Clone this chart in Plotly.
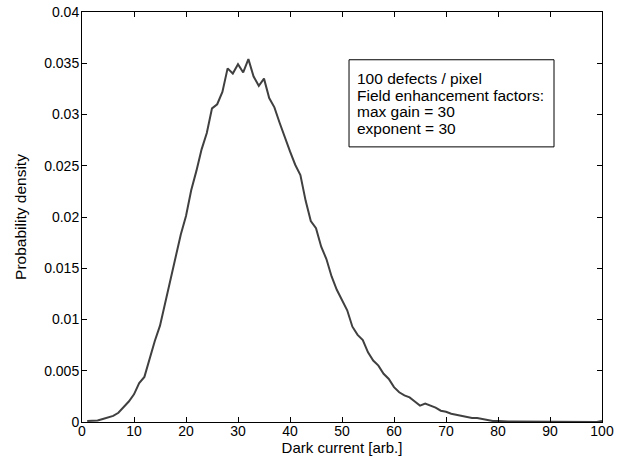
import plotly.graph_objects as go

dark_current = list(range(1, 101))
prob_density = [
    0.0001, 0.0001, 0.00015, 0.0003, 0.00045, 0.0006, 0.0009, 0.0014, 0.0020, 0.0027,
    0.0038, 0.0044, 0.0062, 0.0079, 0.0094, 0.0116, 0.0137, 0.0158, 0.0183, 0.0201,
    0.0226, 0.0245, 0.0266, 0.0282, 0.0306, 0.0310, 0.0322, 0.0345, 0.0340, 0.0349,
    0.0341, 0.0354, 0.0337, 0.0328, 0.0335, 0.0316, 0.0307, 0.0292, 0.0277, 0.0264,
    0.0251, 0.0241, 0.0216, 0.0196, 0.0189, 0.0171, 0.0159, 0.0142, 0.0129, 0.0119,
    0.0109, 0.0093, 0.0085, 0.0080, 0.0068, 0.0060, 0.0055, 0.0047, 0.0042, 0.0034,
    0.0029, 0.0026, 0.0024, 0.0020, 0.0016, 0.0018, 0.0016, 0.0014, 0.0011, 0.0010,
    0.0008, 0.0007, 0.0006, 0.0005, 0.0004, 0.0004, 0.0003, 0.0002, 0.0001, 0.0001,
    0.00005, 0.00005, 0.00005, 0.00005, 0.00005, 0.00005, 0.00005, 0.00005, 0.00005, 0.00005,
    0.00005, 0.00005, 0.00005, 0.00005, 0.00005, 0.00005, 0.0, 0.0, 0.0, 0.0001,
]

x_ticks = [0, 10, 20, 30, 40, 50, 60, 70, 80, 90, 100]
y_ticks = [0, 0.005, 0.01, 0.015, 0.02, 0.025, 0.03, 0.035, 0.04]
y_tick_labels = ["0", "0.005", "0.01", "0.015", "0.02", "0.025", "0.03", "0.035", "0.04"]

note_lines = ["100 defects / pixel", "Field enhancement factors:", "max gain = 30", "exponent = 30"]

FONT = "Liberation Sans, Arial, sans-serif"

fig = go.Figure()
fig.add_trace(go.Scatter(
    x=dark_current, y=prob_density, mode="lines",
    line=dict(color="#404040", width=2),
    showlegend=False, hoverinfo="skip",
))

axis_common = dict(
    showline=True, linecolor="black", linewidth=1, mirror="allticks",
    ticks="inside", ticklen=5, tickcolor="black", tickwidth=1,
    showgrid=False, zeroline=False,
    tickfont=dict(family=FONT, size=14, color="black"),
)

fig.update_xaxes(
    range=[0, 100], tickvals=x_ticks, ticklabelstandoff=-4,
    title=dict(text="Dark current [arb.]", font=dict(family=FONT, size=15, color="black"), standoff=1),
    **axis_common,
)
fig.update_yaxes(
    range=[0, 0.04], tickvals=y_ticks, ticktext=y_tick_labels, ticklabelstandoff=-1,
    title=dict(text="Probability density", font=dict(family=FONT, size=15.5, color="black"), standoff=13),
    **axis_common,
)

# note box
box_x0, box_x1 = 51.35, 90.77
box_y0, box_y1 = 0.02684, 0.03534
fig.add_shape(type="rect", xref="x", yref="y", x0=box_x0, x1=box_x1, y0=box_y0, y1=box_y1,
              line=dict(color="black", width=1), fillcolor="white", layer="above")
text_x = 52.5
line_y_top = 0.03355
line_step = 0.00165
for i, line in enumerate(note_lines):
    fig.add_annotation(
        x=text_x, y=line_y_top - i * line_step, xref="x", yref="y",
        xanchor="left", yanchor="middle",
        text=line, align="left", showarrow=False,
        font=dict(family=FONT, size=15.5, color="black"),
    )

fig.update_layout(
    width=622, height=467,
    margin=dict(l=82, r=20, t=12, b=45, autoexpand=False),
    paper_bgcolor="white", plot_bgcolor="white",
)

fig.write_html("out.html", config={"displayModeBar": False},
               post_script="document.body.style.margin='0px';")
